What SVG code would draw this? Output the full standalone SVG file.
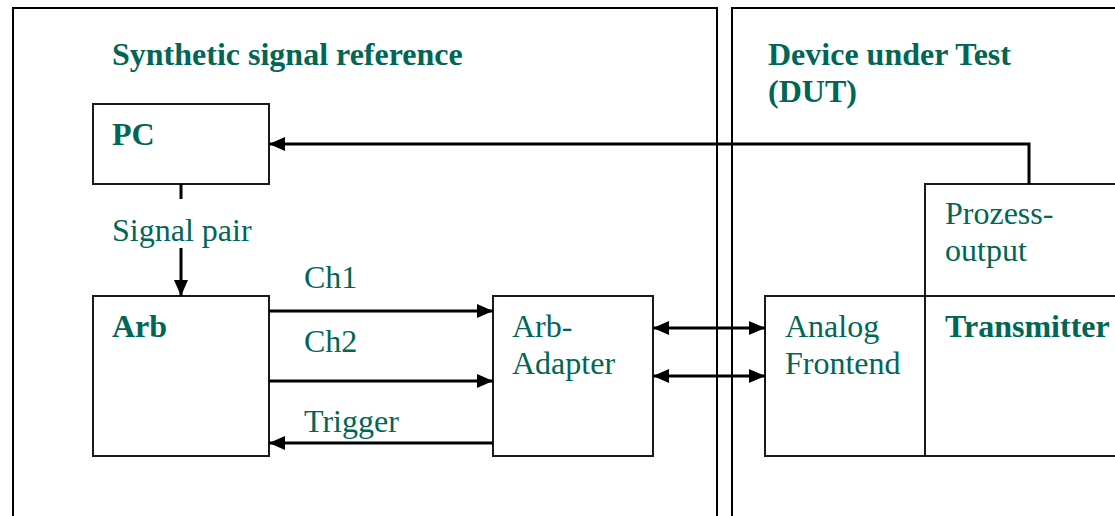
<svg xmlns="http://www.w3.org/2000/svg" width="1115" height="516" viewBox="0 0 1115 516">
<style>
.frame{fill:none;stroke:#000;stroke-width:2}
.box{fill:#fff;stroke:#1a1a1a;stroke-width:2}
.t{font-family:"Liberation Serif","Times New Roman",serif;font-size:32px;fill:#006655}
.b{font-weight:bold}
.c{fill:none;stroke:#000;stroke-width:3}
</style>
<defs>
<marker id="ah" markerUnits="userSpaceOnUse" markerWidth="16" markerHeight="14" refX="16" refY="7" orient="auto-start-reverse">
<path d="M0,0 L16,7 L0,14 z" fill="#000"/>
</marker>
</defs>
<rect width="1115" height="516" fill="#fff"/>
<g id="frame-synthetic">
<path class="frame" d="M13,520 V8 H717 V520"/>
<text class="t b" x="112" y="65">Synthetic signal reference</text>
</g>
<g id="frame-dut">
<path class="frame" d="M732,520 V8 H1120"/>
<text class="t b" x="768" y="65">Device under Test</text>
<text class="t b" x="768" y="102">(DUT)</text>
</g>
<g id="pc">
<rect class="box" x="93" y="104" width="176" height="80"/>
<text class="t b" x="112" y="145">PC</text>
</g>
<g id="arb">
<rect class="box" x="93" y="296" width="176" height="160"/>
<text class="t b" x="112" y="337">Arb</text>
</g>
<g id="arb-adapter">
<rect class="box" x="493" y="296" width="160" height="160"/>
<text class="t" x="512" y="337">Arb-</text>
<text class="t" x="512" y="374">Adapter</text>
</g>
<g id="analog-frontend">
<rect class="box" x="765" y="296" width="160" height="160"/>
<text class="t" x="785" y="337">Analog</text>
<text class="t" x="785" y="374">Frontend</text>
</g>
<g id="prozess-output">
<rect class="box" x="925" y="184" width="200" height="112"/>
<text class="t" x="945" y="224">Prozess-</text>
<text class="t" x="945" y="261">output</text>
</g>
<g id="transmitter">
<rect class="box" x="925" y="296" width="200" height="160"/>
<text class="t b" x="945" y="337">Transmitter</text>
</g>
<g id="connectors">
<path class="c" d="M181,184 V199"/>
<path class="c" d="M181,248 V296" marker-end="url(#ah)"/>
<text class="t" x="112" y="241">Signal pair</text>
<path class="c" d="M269,311 H493" marker-end="url(#ah)"/>
<text class="t" x="304" y="288">Ch1</text>
<path class="c" d="M269,381 H493" marker-end="url(#ah)"/>
<text class="t" x="304" y="352">Ch2</text>
<path class="c" d="M493,443 H269" marker-end="url(#ah)"/>
<text class="t" x="304" y="432">Trigger</text>
<path class="c" d="M653,328 H765" marker-start="url(#ah)" marker-end="url(#ah)"/>
<path class="c" d="M653,376 H765" marker-start="url(#ah)" marker-end="url(#ah)"/>
<path class="c" d="M1029,184 V144 H269" marker-end="url(#ah)"/>
</g>
</svg>
